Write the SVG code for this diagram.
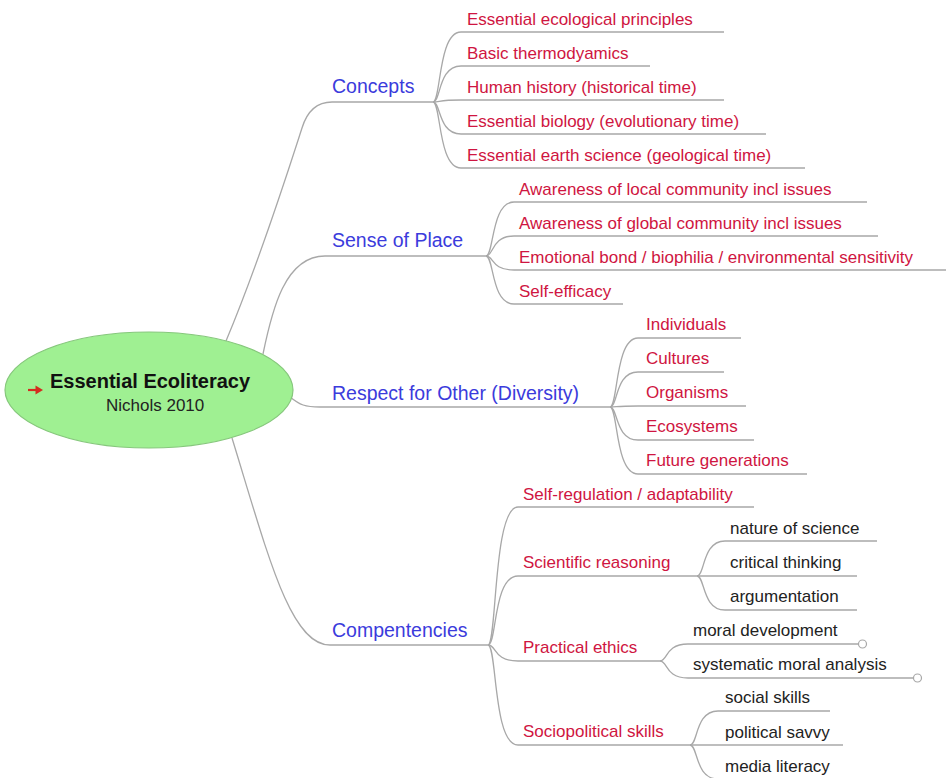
<svg xmlns="http://www.w3.org/2000/svg" width="946" height="778" viewBox="0 0 946 778">
<style>
  text { font-family: "Liberation Sans", Arial, sans-serif; }
  .b { font-size: 19.5px; fill: #3b3bdc; }
  .r { font-size: 17px; fill: #cf1541; }
  .k { font-size: 17px; fill: #222222; }
  .ln { fill: none; stroke: #a8a8a8; stroke-width: 1.3; }
  .end { fill: #ffffff; stroke: #a8a8a8; stroke-width: 1.2; }
</style>
<rect x="0" y="0" width="946" height="778" fill="#ffffff"/>
<g id="connectors" class="ln">
  <path d="M226,341 C260,260 290,165 302,128 Q310,102 332,102 L433,102"/>
  <path d="M263,354 C272,310 285,256 325,256 L486,256"/>
  <path d="M290,397 C300,405 305,407 320,407 L610,407"/>
  <path d="M232,438 C268,555 290,645 330,645 L488,645"/>
  <path d="M433,102 C441,102 438,32 461,32 L724,32"/>
  <path d="M433,102 C441,102 438,66 461,66 L650,66"/>
  <path d="M433,102 C441,102 438,100 461,100 L724,100"/>
  <path d="M433,102 C441,102 438,134 461,134 L766,134"/>
  <path d="M433,102 C441,102 438,168 461,168 L805,168"/>
  <path d="M486,256 C494,256 491,202 514,202 L867,202"/>
  <path d="M486,256 C494,256 491,236 514,236 L878,236"/>
  <path d="M486,256 C494,256 491,270 514,270 L946,270"/>
  <path d="M486,256 C494,256 491,304 514,304 L623,304"/>
  <path d="M610,407 C618,407 615,338 638,338 L741,338"/>
  <path d="M610,407 C618,407 615,372 638,372 L724,372"/>
  <path d="M610,407 C618,407 615,406 638,406 L746,406"/>
  <path d="M610,407 C618,407 615,440 638,440 L754,440"/>
  <path d="M610,407 C618,407 615,474 638,474 L807,474"/>
  <path d="M488,645 C497,645 493,507 518,507 L754,507"/>
  <path d="M488,645 C497,645 493,576 518,576 L697,576"/>
  <path d="M488,645 C497,645 493,661 518,661 L660,661"/>
  <path d="M488,645 C497,645 493,745 518,745 L690,745"/>
  <path d="M697,576 C705,576 702,541 725,541 L877,541"/>
  <path d="M697,576 C705,576 702,576 725,576 L857,576"/>
  <path d="M697,576 C705,576 702,610 725,610 L857,610"/>
  <path d="M660,661 C668,661 665,644 688,644 L858,644"/>
  <path d="M660,661 C668,661 665,678 688,678 L913,678"/>
  <path d="M690,745 C698,745 695,711 718,711 L830,711"/>
  <path d="M690,745 C698,745 695,745 718,745 L843,745"/>
  <path d="M690,745 C698,745 695,779 718,779 L830,779"/>
  <circle class="end" cx="862.5" cy="644" r="4"/>
  <circle class="end" cx="917.5" cy="678" r="4"/>
</g>
<g id="root">
  <ellipse cx="149" cy="390" rx="144" ry="58" fill="#9ff092" stroke="#86c77c" stroke-width="1.2"/>
  <path d="M28,390 L37,390" stroke="#d42b1e" stroke-width="2.2" fill="none"/>
  <polygon points="35.5,385.5 43,390 35.5,394.5" fill="#d42b1e"/>
  <text x="50" y="388" font-size="20" font-weight="bold" fill="#111111">Essential Ecoliteracy</text>
  <text x="106" y="411" font-size="17" fill="#222222">Nichols 2010</text>
</g>
<g id="concepts"><text class="b" x="332" y="93">Concepts</text></g>
<g id="c1"><text class="r" x="467" y="25">Essential ecological principles</text></g>
<g id="c2"><text class="r" x="467" y="59">Basic thermodyamics</text></g>
<g id="c3"><text class="r" x="467" y="93">Human history (historical time)</text></g>
<g id="c4"><text class="r" x="467" y="127">Essential biology (evolutionary time)</text></g>
<g id="c5"><text class="r" x="467" y="161">Essential earth science (geological time)</text></g>
<g id="sense"><text class="b" x="332" y="247">Sense of Place</text></g>
<g id="s1"><text class="r" x="519" y="195">Awareness of local community incl issues</text></g>
<g id="s2"><text class="r" x="519" y="229">Awareness of global community incl issues</text></g>
<g id="s3"><text class="r" x="519" y="263">Emotional bond / biophilia / environmental sensitivity</text></g>
<g id="s4"><text class="r" x="519" y="297">Self-efficacy</text></g>
<g id="respect"><text class="b" x="332" y="400">Respect for Other (Diversity)</text></g>
<g id="r1"><text class="r" x="646" y="330">Individuals</text></g>
<g id="r2"><text class="r" x="646" y="364">Cultures</text></g>
<g id="r3"><text class="r" x="646" y="398">Organisms</text></g>
<g id="r4"><text class="r" x="646" y="432">Ecosystems</text></g>
<g id="r5"><text class="r" x="646" y="466">Future generations</text></g>
<g id="comp"><text class="b" x="332" y="637">Compentencies</text></g>
<g id="selfreg"><text class="r" x="523" y="500">Self-regulation / adaptability</text></g>
<g id="sci"><text class="r" x="523" y="568">Scientific reasoning</text></g>
<g id="sci1"><text class="k" x="730" y="534">nature of science</text></g>
<g id="sci2"><text class="k" x="730" y="568">critical thinking</text></g>
<g id="sci3"><text class="k" x="730" y="602">argumentation</text></g>
<g id="eth"><text class="r" x="523" y="653">Practical ethics</text></g>
<g id="eth1"><text class="k" x="693" y="636">moral development</text></g>
<g id="eth2"><text class="k" x="693" y="670">systematic moral analysis</text></g>
<g id="soc"><text class="r" x="523" y="737">Sociopolitical skills</text></g>
<g id="soc1"><text class="k" x="725" y="703">social skills</text></g>
<g id="soc2"><text class="k" x="725" y="738">political savvy</text></g>
<g id="soc3"><text class="k" x="725" y="772">media literacy</text></g>
</svg>
